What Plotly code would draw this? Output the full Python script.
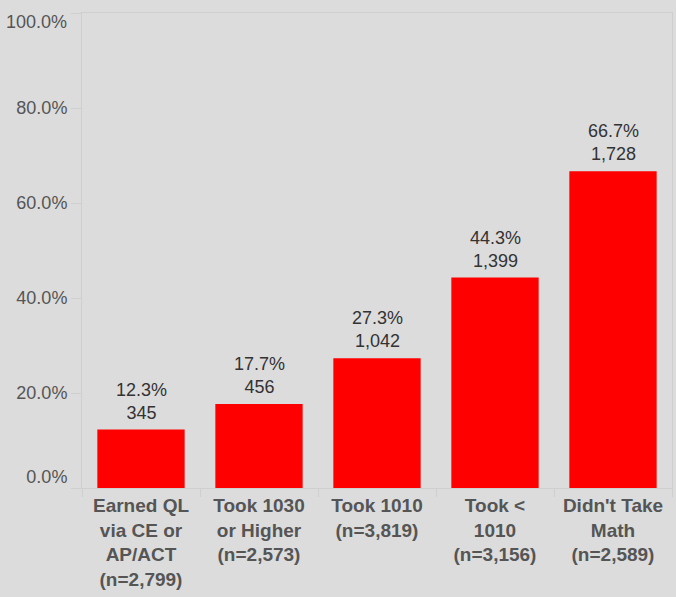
import plotly.graph_objects as go

categories = [
    "Earned QL<br>via CE or<br>AP/ACT<br>(n=2,799)",
    "Took 1030<br>or Higher<br>(n=2,573)",
    "Took 1010<br>(n=3,819)",
    "Took <<br>1010<br>(n=3,156)",
    "Didn't Take<br>Math<br>(n=2,589)",
]
pct_values = [12.3, 17.7, 27.3, 44.3, 66.7]
counts = [345, 456, 1042, 1399, 1728]
y_ticks = [0, 20, 40, 60, 80, 100]

keys = [f"c{i}" for i in range(len(categories))]
labels = [f"{p:.1f}%<br>{c:,}" for p, c in zip(pct_values, counts)]

BG = "#dcdcdc"
LINE = "#cfcfcf"
FONT = "Liberation Sans, Arial"

fig = go.Figure(
    go.Bar(
        x=keys,
        y=[p / 100 for p in pct_values],
        marker=dict(color="#ff0000", line=dict(width=0)),
        width=0.74,
        hoverinfo="skip",
    )
)

for k, p, lab in zip(keys, pct_values, labels):
    fig.add_annotation(
        x=k, y=p / 100, xref="x", yref="y",
        text=lab, showarrow=False, yanchor="bottom", yshift=5,
        font=dict(family=FONT, size=18, color="#333333"),
    )

# Tableau-style: keep the end labels inside the axis extent
y_text = []
for v in y_ticks:
    t = f"{v:.1f}%"
    if v == y_ticks[0]:
        t = t + "<br>&nbsp;"
    elif v == y_ticks[-1]:
        fig.add_annotation(
            x=0, y=v / 100, xref="paper", yref="y",
            text=t, showarrow=False, xanchor="right", yanchor="middle",
            xshift=-13, yshift=-9,
            font=dict(family=FONT, size=18, color="#555555"),
        )
        t = ""
    y_text.append(t)

fig.update_layout(
    width=676,
    height=597,
    margin=dict(l=82, r=4, t=13, b=109),
    paper_bgcolor=BG,
    plot_bgcolor=BG,
    showlegend=False,
    font=dict(family=FONT, color="#555555"),
)

fig.update_xaxes(
    type="category",
    tickvals=keys,
    ticktext=[f"<b>{c}</b>" for c in categories],
    tickfont=dict(size=19, color="#555555", family=FONT),
    ticks="outside",
    tickson="boundaries",
    ticklen=8,
    tickcolor=LINE,
    showline=True,
    linecolor=LINE,
    mirror=True,
    showgrid=False,
)

fig.update_yaxes(
    range=[0, 1],
    tickvals=[v / 100 for v in y_ticks],
    ticktext=y_text,
    tickfont=dict(size=18, color="#555555", family=FONT),
    ticks="outside",
    ticklen=10,
    tickcolor=LINE,
    showline=True,
    linecolor=LINE,
    mirror=True,
    showgrid=False,
    zeroline=False,
)

fig.write_html(
    "out.html",
    config={"displayModeBar": False},
    post_script="document.body.style.margin='0';document.body.style.background='#dcdcdc';",
)
